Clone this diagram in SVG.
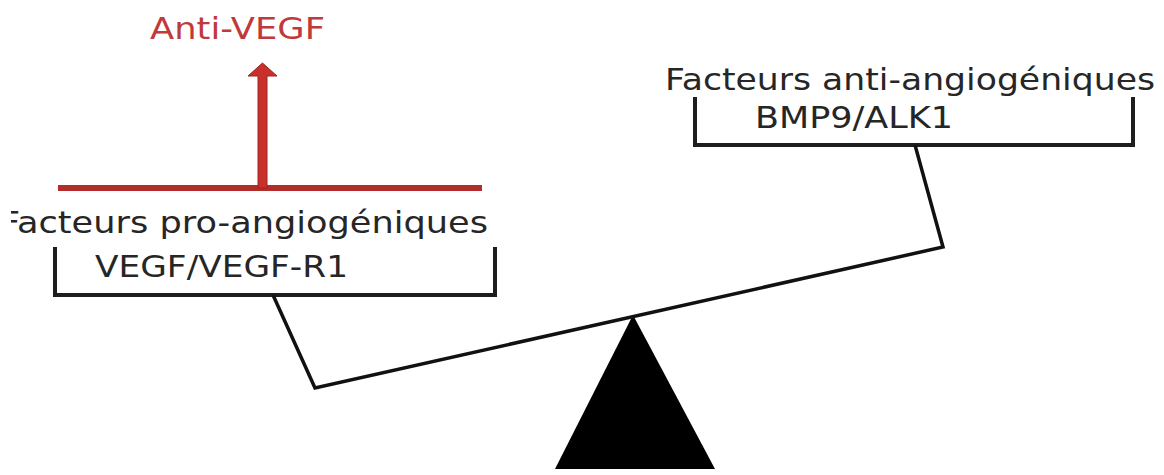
<svg xmlns="http://www.w3.org/2000/svg" width="1164" height="475" viewBox="0 0 1164 475">
  <style>
    .lbl { font-family: "DejaVu Sans", "Liberation Sans", sans-serif; font-size: 30px; fill: #262626; }
    .red { fill: #c0393b; }
    .bracket { fill: none; stroke: #1e1e1e; stroke-width: 4; stroke-linejoin: miter; }
    .beam { fill: none; stroke: #111; stroke-width: 3.5; stroke-linejoin: miter; }
  </style>
  <defs>
    <clipPath id="leftClip">
      <rect x="11" y="190" width="500" height="60"/>
    </clipPath>
  </defs>
  <rect width="1164" height="475" fill="#fff"/>

  <!-- Inhibitor acting on the pro-angiogenic side -->
  <g id="anti-vegf">
    <text class="lbl red" x="150" y="39" textLength="175" lengthAdjust="spacingAndGlyphs">Anti-VEGF</text>
    <line x1="58" y1="188" x2="482" y2="188" stroke="#b32d2a" stroke-width="6"/>
    <path d="M258 188 V76 H248 L262.5 63 L277 76 H267 V188 Z" fill="#c8302c" stroke="#9e2422" stroke-width="1"/>
  </g>

  <!-- Left pan: pro-angiogenic factors -->
  <g id="pro-angiogenic">
    <text class="lbl" x="0" y="233" textLength="488" lengthAdjust="spacingAndGlyphs" clip-path="url(#leftClip)">Facteurs pro-angiogéniques</text>
    <text class="lbl" x="95" y="277" textLength="253" lengthAdjust="spacingAndGlyphs">VEGF/VEGF-R1</text>
    <path class="bracket" d="M55 247 V295 H495 V247"/>
  </g>

  <!-- Right pan: anti-angiogenic factors -->
  <g id="anti-angiogenic">
    <text class="lbl" x="665" y="90" textLength="490" lengthAdjust="spacingAndGlyphs">Facteurs anti-angiogéniques</text>
    <text class="lbl" x="755" y="128" textLength="198" lengthAdjust="spacingAndGlyphs">BMP9/ALK1</text>
    <path class="bracket" d="M695 97 V145 H1133 V97"/>
  </g>

  <!-- Fulcrum -->
  <g id="fulcrum">
    <polygon points="633,315 715,469 555,469" fill="#000"/>
  </g>

  <!-- Balance beam and pan hangers -->
  <g id="connectors">
    <polyline class="beam" points="273,295 315,388 943,247 915,145"/>
  </g>
</svg>
